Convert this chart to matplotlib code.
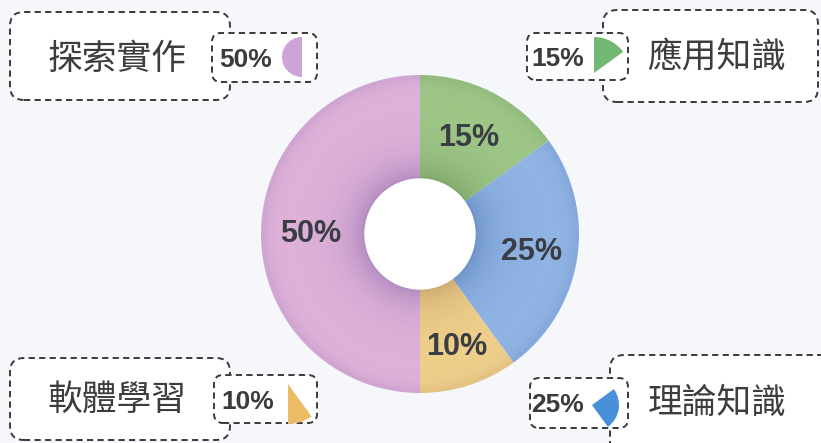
import numpy as np
import matplotlib.pyplot as plt
from matplotlib.patches import FancyBboxPatch, Wedge
from matplotlib.colors import to_rgb

# data
labels = ['應用知識', '理論知識', '軟體學習', '探索實作']
shares = [15, 25, 10, 50]
pct_text = ['15%', '25%', '10%', '50%']
ring_light = ['#9dc687', '#90b4e3', '#eecf8a', '#dfb2d9']
ring_dark = ['#7aa266', '#678cc2', '#c9a46c', '#a883bb']
icon_colors = ['#72b872', '#4a8fda', '#ebbb66', '#cda3d9']

W, H = 821, 443
fig = plt.figure(figsize=(W / 100, H / 100), dpi=100, facecolor='#f5f7fb')
ax = fig.add_axes([0, 0, 1, 1])
ax.set_facecolor('#f5f7fb')


def py(y):
    # pixel rows from top -> data y
    return H - y


cx, cy = 420, py(234)
R, r_hole = 159, 55

# donut with radial shading, drawn as thin layered rings
n_layers = 26
edges = np.linspace(r_hole, R, n_layers + 1)
for i in range(n_layers):
    t = (i + 0.5) / n_layers
    k = 1 - 0.85 * np.exp(-t / 0.2) - 0.35 * np.exp(-(1 - t) / 0.07)
    k = np.clip(k, 0, 1)
    cols = [tuple(np.array(to_rgb(d)) + (np.array(to_rgb(l)) - np.array(to_rgb(d))) * k)
            for l, d in zip(ring_light, ring_dark)]
    ax.pie(shares, radius=edges[i + 1], center=(cx, cy), startangle=90,
           counterclock=False, colors=cols, frame=True,
           wedgeprops=dict(width=edges[i + 1] - edges[i] + 0.6, linewidth=0))

# hole
ax.add_patch(plt.Circle((cx, cy), r_hole, color='white', zorder=3))

# percent labels on the ring
cum = np.cumsum([0] + shares[:-1]) * 3.6
mid = cum + np.array(shares) * 1.8
dist = [0.68, 0.71, 0.75, 0.69]
for m, d, s in zip(mid, dist, pct_text):
    a = np.deg2rad(90 - m)
    ax.text(cx + d * R * np.cos(a), cy + d * R * np.sin(a), s, ha='center', va='center',
            fontsize=22, fontweight='bold', family='Liberation Sans', color='#3b3d44', zorder=4)

# callout boxes: big box, small box, label centre, pct centre, icon apex, icon radius
boxes = [
    ((603, 10, 818, 102), (527, 33, 628, 80), (717, 58), (558, 59), (594, 73), 36),
    ((610, 355, 850, 470), (530, 378, 628, 428), (717, 403), (557, 405), (592, 405), 27),
    ((10, 358, 230, 440), (214, 375, 317, 423), (117, 400), (248, 402), (288, 384), 40),
    ((10, 12, 230, 100), (212, 33, 317, 82), (117, 59), (246, 60), (302, 57), 20),
]


def dashed_box(x0, y0, x1, y1, rs, z):
    ax.add_patch(FancyBboxPatch((x0, py(y1)), x1 - x0, y1 - y0,
                                boxstyle=f'round,pad=0,rounding_size={rs}',
                                fc='white', ec='#3a3a3a', lw=1.4, ls=(0, (3.2, 2.2)),
                                zorder=z))


for i, (big, small, lab_xy, pct_xy, apex, rad) in enumerate(boxes):
    dashed_box(*big, 14, 5)
    dashed_box(*small, 9, 6)
    ax.text(lab_xy[0], py(lab_xy[1]), labels[i], ha='center', va='center', fontsize=25,
            family=['Noto Sans CJK TC', 'DejaVu Sans'], fontweight='light',
            color='#3d3d3d', zorder=7)
    ax.text(pct_xy[0], py(pct_xy[1]), pct_text[i], ha='center', va='center', fontsize=19,
            fontweight='bold', family='Liberation Sans', color='#3b3b3b', zorder=7)
    a0, a1 = cum[i], cum[i] + shares[i] * 3.6
    ax.add_patch(Wedge((apex[0], py(apex[1])), rad, 90 - a1, 90 - a0,
                       fc=icon_colors[i], ec='none', zorder=7))

ax.set_xlim(0, W)
ax.set_ylim(0, H)
ax.set_aspect('auto')
ax.axis('off')
fig.savefig('out.png', dpi=100, facecolor=fig.get_facecolor())
